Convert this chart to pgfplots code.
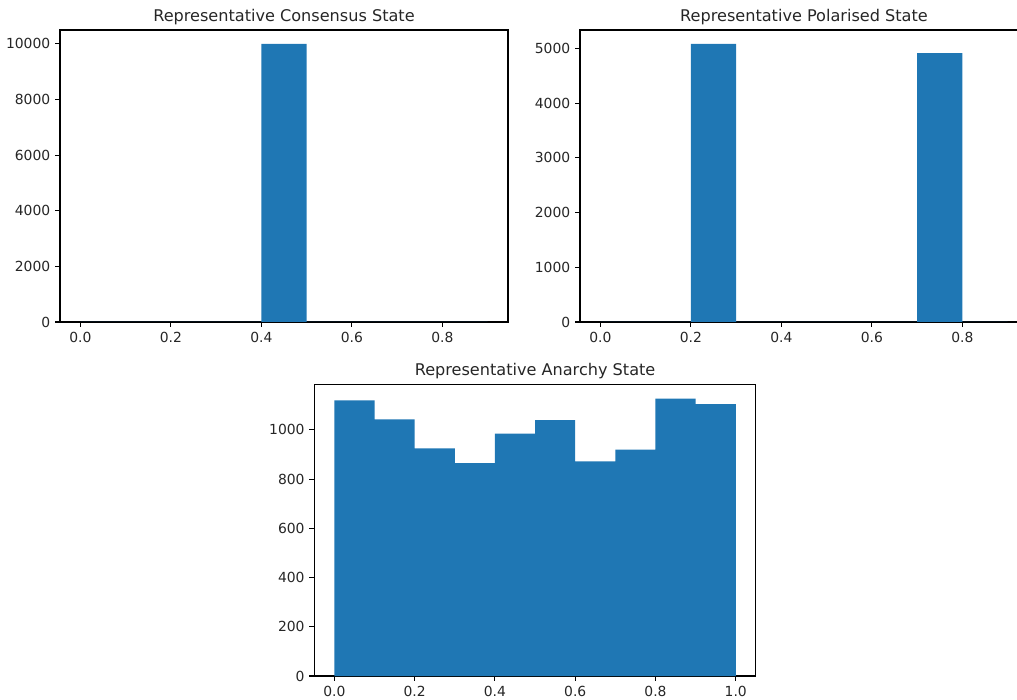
\documentclass[border=0pt]{standalone}
\usepackage{fontspec}
\setmainfont{DejaVu Sans}
\usepackage{pgfplots}
\pgfplotsset{compat=1.18}
\definecolor{mplblue}{RGB}{31,119,180}
\definecolor{txt}{RGB}{38,38,38}
\pgfplotsset{
  histax/.style={
    scale only axis, anchor=south west,
    axis line style={black, line width=0.75pt},
    tick style={black, line width=0.75pt}, major tick length=3.5pt,
    tick align=outside, xtick pos=bottom, ytick pos=left,
    ymin=0, font=\fontsize{10}{12}\selectfont,
    /pgf/number format/assume math mode=true,
    scaled y ticks=false,
    ticklabel style={text=txt},
    yticklabel style={/pgf/number format/1000 sep={}},
    title style={font=\fontsize{11.6}{14}\selectfont, text=txt, anchor=base, at={(0.5,1)}, yshift=0pt},
  }
}
\begin{document}
\begin{tikzpicture}
\clip (0pt,0pt) rectangle (732.24pt,503.28pt);
% Consensus
\begin{axis}[histax, at={(43.2pt,271.44pt)}, width=322.56pt, height=210.24pt,
  xmin=-0.045, xmax=0.945, ymax=10500,
  xtick={0,0.2,0.4,0.6,0.8}, xticklabels={0.0,0.2,0.4,0.6,0.8},
  ytick={0,2000,4000,6000,8000,10000},
  title={Representative Consensus State}]
\addplot[const plot mark left, fill=mplblue, draw=none] coordinates {
(0.0,0) (0.1,0) (0.2,0) (0.3,0) (0.4,10000) (0.5,0) (0.6,0) (0.7,0) (0.8,0) (0.9,0)
} \closedcycle;
\end{axis}
% Polarised
\begin{axis}[histax, at={(417.6pt,271.44pt)}, width=322.56pt, height=210.24pt,
  xmin=-0.045, xmax=0.945, ymax=5339,
  xtick={0,0.2,0.4,0.6,0.8}, xticklabels={0.0,0.2,0.4,0.6,0.8},
  ytick={0,1000,2000,3000,4000,5000},
  title={Representative Polarised State}]
\addplot[const plot mark left, fill=mplblue, draw=none] coordinates {
(0.0,0) (0.1,0) (0.2,5085) (0.3,0) (0.4,0) (0.5,0) (0.6,0) (0.7,4915) (0.8,0) (0.9,0)
} \closedcycle;
\end{axis}
% Anarchy
\begin{axis}[histax, at={(226.3pt,16.56pt)}, width=317.9pt, height=210.0pt,
  xmin=-0.05, xmax=1.05, ymax=1185,
  xtick={0,0.2,0.4,0.6,0.8,1.0}, xticklabels={0.0,0.2,0.4,0.6,0.8,1.0},
  ytick={0,200,400,600,800,1000},
  title={Representative Anarchy State}]
\addplot[const plot mark left, fill=mplblue, draw=none] coordinates {
(0.0,1120) (0.1,1043) (0.2,925) (0.3,865) (0.4,985) (0.5,1040) (0.6,872) (0.7,920) (0.8,1127) (0.9,1105) (1.0,1105)
} \closedcycle;
\end{axis}
\end{tikzpicture}
\end{document}
